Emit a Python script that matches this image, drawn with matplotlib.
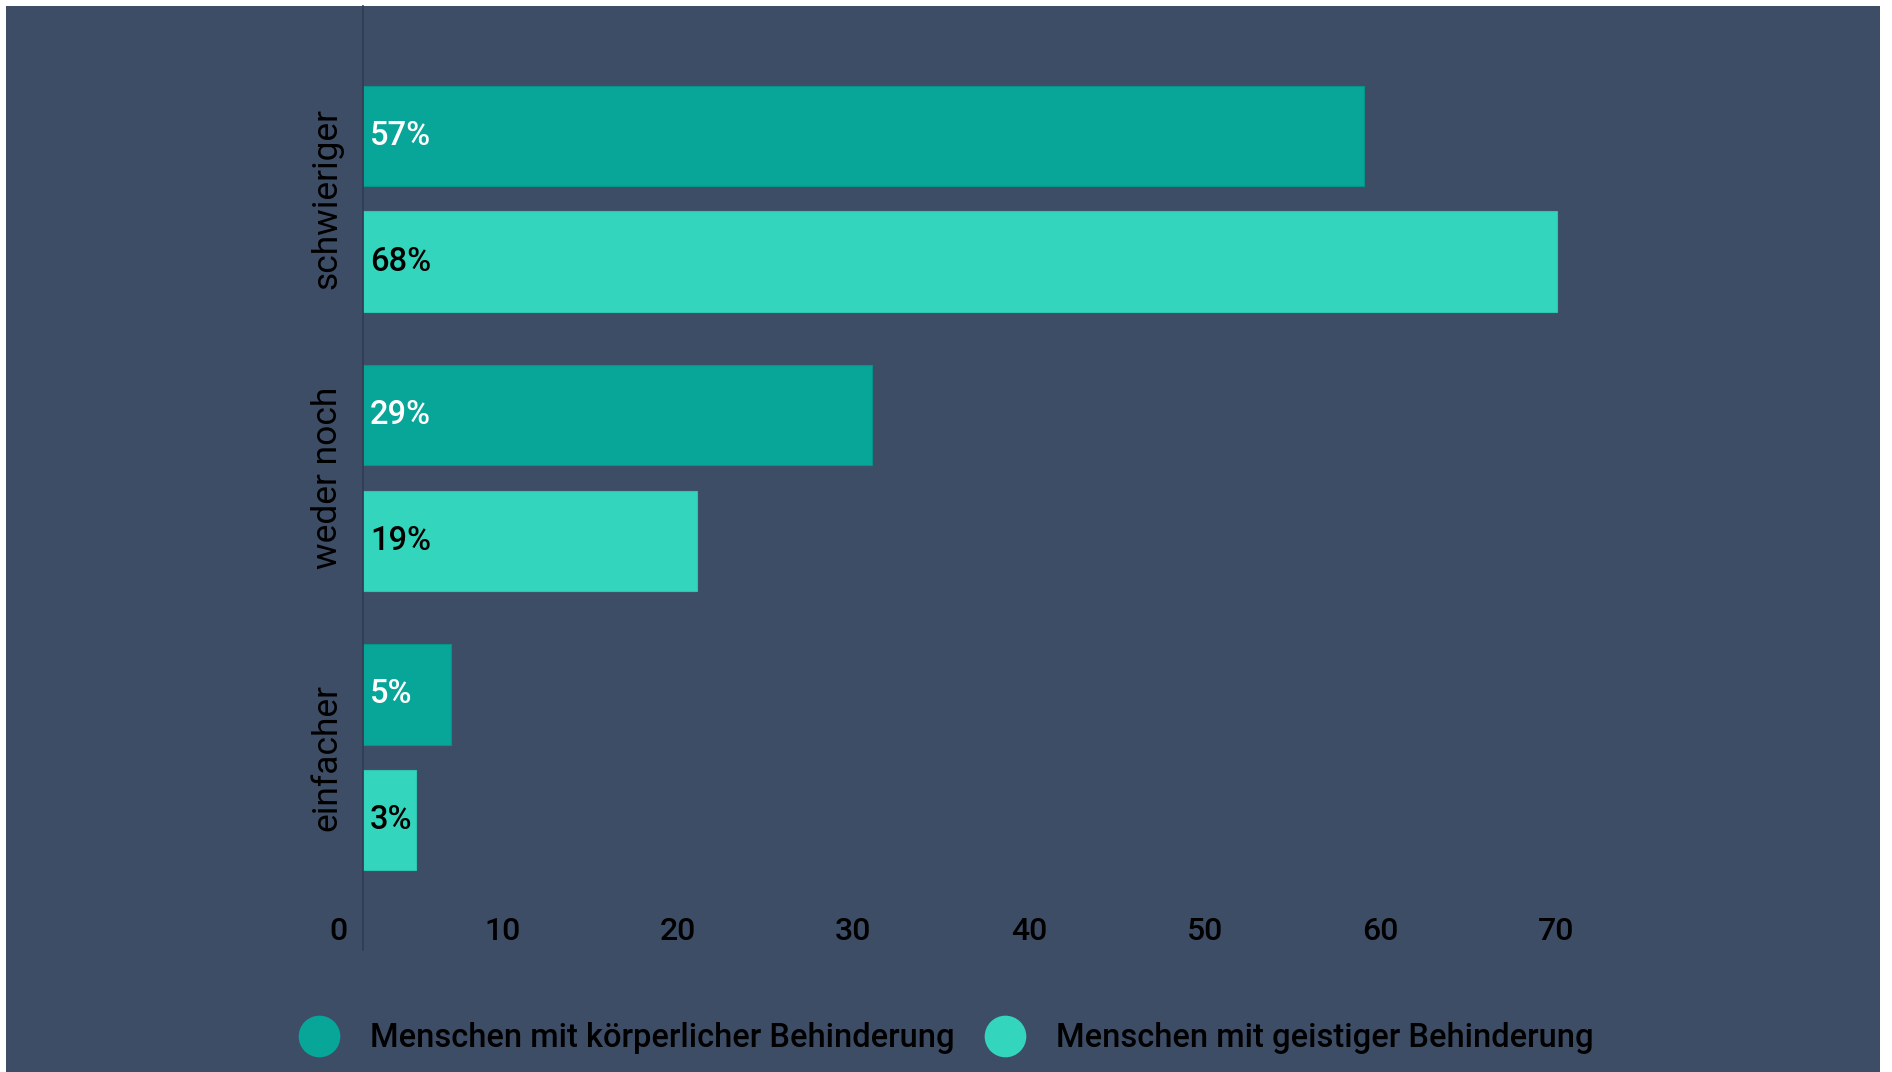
import matplotlib.pyplot as plt
import matplotlib.transforms as mtransforms
from matplotlib.patches import Rectangle
from matplotlib.lines import Line2D
import numpy as np

plt.rcParams['font.family'] = ['Roboto', 'DejaVu Sans']

# data
categories = ['schwieriger', 'weder noch', 'einfacher']
koerperlich = [57, 29, 5]
geistig = [68, 19, 3]
series_names = ['Menschen mit körperlicher Behinderung',
                'Menschen mit geistiger Behinderung']
xticks = [0, 10, 20, 30, 40, 50, 60, 70]

bg = '#3d4d66'
c_dark = '#08a698'
c_light = '#33d6bd'

W, H = 1892, 1072
fig = plt.figure(figsize=(W / 100, H / 100), dpi=100)
fig.patch.set_facecolor('white')
# dark panel of the screenshot
fig.patches.append(Rectangle((6 / W, 0), (1880 - 6) / W, (H - 6) / H,
                             transform=fig.transFigure, facecolor=bg,
                             edgecolor='none', zorder=-5))

px_per_unit = 17.56
left, right = 363, 1880
top, bottom = 6, 950
ax = fig.add_axes([left / W, 1 - bottom / H, (right - left) / W, (bottom - top) / H])
ax.set_zorder(2)
ax.set_facecolor('none')
ax.set_xlim(0, (right - left) / px_per_unit)
ax.set_ylim(2.69, -0.69)

y = np.arange(len(categories))
h = 0.36
off = 0.225
b1 = ax.barh(y - off, koerperlich, height=h, color=c_dark, edgecolor='#079488', linewidth=0.8)
b2 = ax.barh(y + off, geistig, height=h, color=c_light, edgecolor='#2ec4ad', linewidth=0.8)

for bars, vals, col in ((b1, koerperlich, 'white'), (b2, geistig, 'black')):
    for r, v in zip(bars, vals):
        ax.annotate(f'{v}%', xy=(0, r.get_y() + r.get_height() / 2), xytext=(5, 0),
                    textcoords='offset points', ha='left', va='center',
                    color=col, fontsize=23.5, fontweight='medium')

for s in ['top', 'right', 'bottom']:
    ax.spines[s].set_visible(False)
ax.spines['left'].set_color('#2f3c52')
ax.spines['left'].set_linewidth(1.2)

ax.set_yticks(y)
ax.set_yticklabels(categories, rotation=90, va='center', fontsize=25.5, color='black')
ax.tick_params(axis='y', length=0, pad=14)
ax.set_xticks([])

# x tick labels (sit slightly left of their true positions in the original)
blend = mtransforms.blended_transform_factory(ax.transData, ax.transAxes)
shift = mtransforms.ScaledTranslation(-36.5 / 100, 0, fig.dpi_scale_trans)
shift0 = mtransforms.ScaledTranslation(-16 / 100, 0, fig.dpi_scale_trans)
for t in xticks:
    if t == 0:
        ax.text(t, 10 / 944, str(t), transform=blend + shift0, ha='right',
                va='baseline', fontsize=23, color='black', fontweight='medium')
    else:
        ax.text(t, 10 / 944, str(t), transform=blend + shift, ha='center',
                va='baseline', fontsize=23, color='black', fontweight='medium')

handles = [Line2D([], [], marker='o', linestyle='none', markersize=30,
                  markerfacecolor=c, markeredgecolor='none') for c in (c_dark, c_light)]
fig.legend(handles, series_names, loc='center left',
           bbox_to_anchor=(298 / W, 1 - 1038 / H), ncol=2, frameon=False,
           prop={'size': 23.5, 'weight': 'medium'}, handlelength=1.3,
           handletextpad=0.9, columnspacing=0.9,
           borderpad=0, borderaxespad=0, labelcolor='black')

fig.savefig('out.png', dpi=100, facecolor=fig.get_facecolor())
